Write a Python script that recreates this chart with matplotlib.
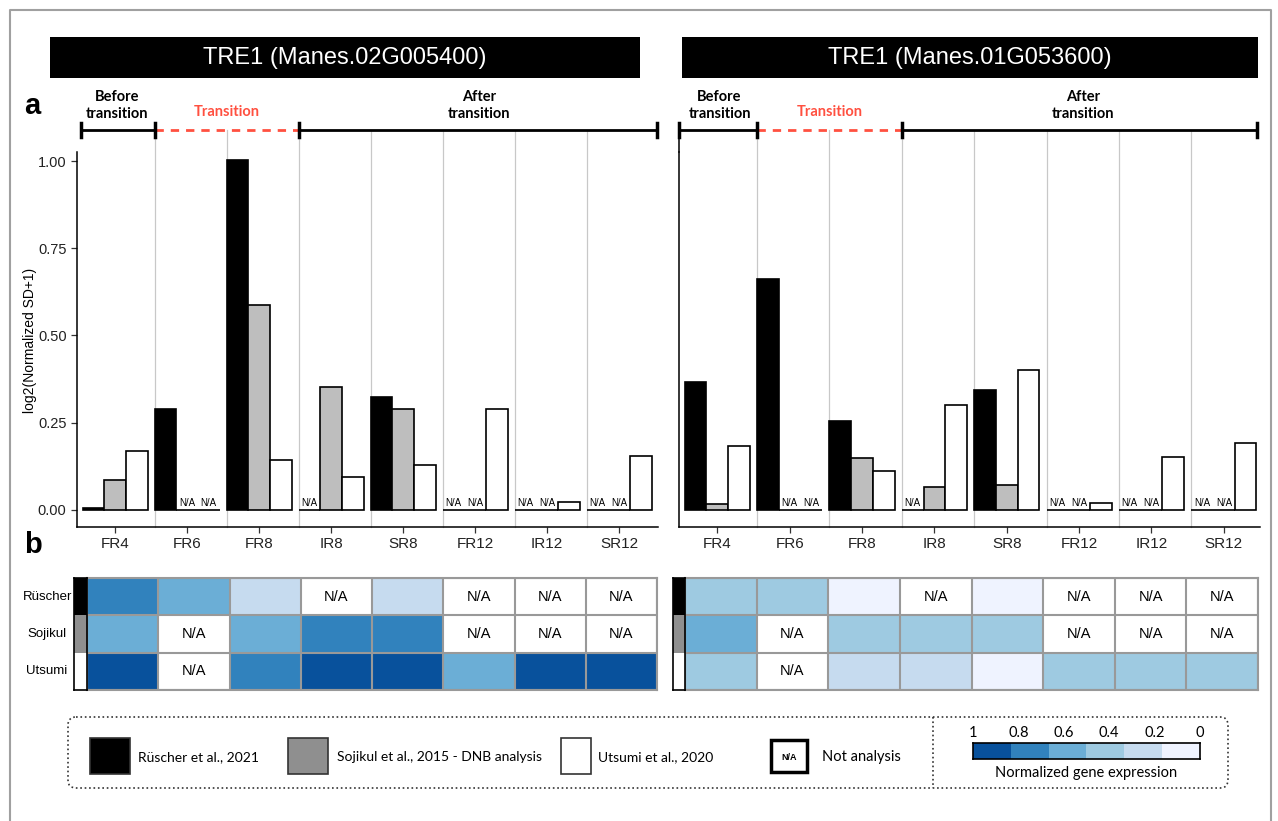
import numpy as np
import matplotlib
matplotlib.use('Agg')
import matplotlib.pyplot as plt
from matplotlib.colors import ListedColormap, BoundaryNorm
from matplotlib.patches import Rectangle, FancyBboxPatch

plt.rcParams['font.family'] = ['Liberation Sans', 'DejaVu Sans']

W, H = 1278, 821
na = np.nan

samples = ['FR4', 'FR6', 'FR8', 'IR8', 'SR8', 'FR12', 'IR12', 'SR12']
studies = ['Rüscher', 'Sojikul', 'Utsumi']
genes = ['TRE1 (Manes.02G005400)', 'TRE1 (Manes.01G053600)']
legend_labels = ['Rüscher et al., 2021', 'Sojikul et al., 2015 - DNB analysis', 'Utsumi et al., 2020']

# log2(Normalized SD+1) per study (nan = not analysed)
sd_02g_ruscher = [0.005, 0.29, 1.003, na, 0.323, na, na, na]
sd_02g_sojikul = [0.086, na, 0.588, 0.351, 0.29, na, na, na]
sd_02g_utsumi = [0.169, na, 0.143, 0.094, 0.128, 0.288, 0.024, 0.154]
sd_01g_ruscher = [0.367, 0.662, 0.255, na, 0.344, na, na, na]
sd_01g_sojikul = [0.017, na, 0.149, 0.066, 0.072, na, na, na]
sd_01g_utsumi = [0.183, na, 0.112, 0.30, 0.401, 0.02, 0.152, 0.192]

# normalized gene expression (heatmap b)
ex_02g_ruscher = [0.8, 0.6, 0.2, na, 0.2, na, na, na]
ex_02g_sojikul = [0.6, na, 0.6, 0.8, 0.8, na, na, na]
ex_02g_utsumi = [1.0, na, 0.8, 1.0, 1.0, 0.6, 1.0, 1.0]
ex_01g_ruscher = [0.4, 0.4, 0.0, na, 0.0, na, na, na]
ex_01g_sojikul = [0.6, na, 0.4, 0.4, 0.4, na, na, na]
ex_01g_utsumi = [0.4, na, 0.2, 0.2, 0.0, 0.4, 0.4, 0.4]

levels = [0, 0.2, 0.4, 0.6, 0.8, 1.0]
level_labels = ['1', '0.8', '0.6', '0.4', '0.2', '0']

bar_colors = ['black', '#bebebe', 'white']
strip_colors = ['black', '#8f8f8f', 'white']
blues = ['#eff3ff', '#c6dbef', '#9ecae1', '#6baed6', '#3182bd', '#08519c']
red = '#ff5040'

cmap = ListedColormap(blues)
cmap.set_bad('white')
norm = BoundaryNorm([-0.1, 0.1, 0.3, 0.5, 0.7, 0.9, 1.1], 6)


def box(x0, y0, x1, y1):
    # pixel box -> figure fraction
    return [x0 / W, 1 - y1 / H, (x1 - x0) / W, (y1 - y0) / H]


fig = plt.figure(figsize=(W / 100, H / 100), dpi=100)

# overlay for frame, titles, legend (pixel coords)
lax = fig.add_axes([0, 0, 1, 1], zorder=-1)
lax.set_xlim(0, W)
lax.set_ylim(H, 0)
lax.axis('off')
lax.plot([10, 10, 1271, 1271], [H, 10, 10, H], color='#a0a0a0', lw=1.5)

YLO, YHI = -0.049, 1.026
YB = 1.089  # bracket height in data units
SEP = 0.55  # facet border offset from group centre


def bar_panel(ax, series, xl, xr, show_y):
    x = np.arange(len(samples))
    for k, (vals, c) in enumerate(zip(series, bar_colors)):
        xs = x + (k - 1) * 0.3
        ax.bar(xs, np.nan_to_num(vals), 0.3, color=c, edgecolor='black', lw=1.2, zorder=3)
        for xi, v in zip(xs, vals):
            if np.isnan(v):
                ax.text(xi, 0.006, 'N/A', fontsize=7, ha='center', va='bottom', zorder=4)
    for s in x[:-1] + SEP:
        ax.plot([s, s], [YLO, YB], color='#c8c8c8', lw=0.9, zorder=0, clip_on=False)
    ax.set_xlim(-0.53, 7.5 if not show_y else 7.54)
    ax.set_ylim(YLO, YHI)
    ax.set_xticks(x)
    ax.set_xticklabels(samples, fontsize=11)
    ax.set_yticks([0, 0.25, 0.5, 0.75, 1.0])
    ax.set_yticklabels(['0.00', '0.25', '0.50', '0.75', '1.00'], fontsize=10.5)
    for sp in ['top', 'right']:
        ax.spines[sp].set_visible(False)
    for sp in ['left', 'bottom']:
        ax.spines[sp].set_linewidth(1.1)
    ax.tick_params(length=4, width=0.9, colors='#333333', labelcolor='#222222')
    if not show_y:
        ax.tick_params(axis='y', left=False, labelleft=False)
        ax.plot([-0.53, -0.53], [YHI, YB], color='black', lw=1.1, clip_on=False)
    # brackets
    b1, b2 = SEP, 2 + SEP
    ax.plot([xl, b1], [YB, YB], color='black', lw=2, clip_on=False)
    ax.plot([b1, b2], [YB, YB], color=red, lw=2, ls=(0, (3, 2.5)), clip_on=False)
    ax.plot([b2, xr], [YB, YB], color='black', lw=2, clip_on=False)
    for cx in [xl, b1, b2, xr]:
        ax.plot([cx, cx], [YB - 0.02, YB + 0.02], color='black', lw=2.5, clip_on=False)
    kw = dict(ha='center', va='center', fontsize=10.5, fontweight='bold', family=['Lato', 'DejaVu Sans'], clip_on=False)
    ax.text(0.03, 1.16, 'Before\ntransition', linespacing=1.25, **kw)
    ax.text(1.55, 1.141, 'Transition', color=red, **kw)
    ax.text(5.05, 1.16, 'After\ntransition', linespacing=1.25, **kw)


def heat_panel(ax, sax, rows, labels):
    data = np.ma.masked_invalid(np.array(rows))
    ax.imshow(data, cmap=cmap, norm=norm, aspect='auto', interpolation='nearest')
    ax.set_xticks(np.arange(-0.5, 8), minor=True)
    ax.set_yticks(np.arange(-0.5, 3), minor=True)
    ax.grid(which='minor', color='#999999', lw=1.5)
    ax.tick_params(which='both', length=0, labelbottom=False, labelleft=False)
    for sp in ax.spines.values():
        sp.set_color('#999999')
        sp.set_linewidth(1.5)
    for i, r in enumerate(rows):
        for j, v in enumerate(r):
            if np.isnan(v):
                ax.text(j, i, 'N/A', ha='center', va='center', fontsize=10.5)
    sax.imshow(np.arange(3).reshape(3, 1), cmap=ListedColormap(strip_colors), aspect='auto')
    sax.set_xticks([])
    sax.set_yticks([])
    for sp in sax.spines.values():
        sp.set_linewidth(1.2)
    if labels:
        for i, s in enumerate(studies):
            ax.text(-1.06, i, s, ha='center', va='center', fontsize=9.5, clip_on=False)


ax1 = fig.add_axes(box(77, 152, 658, 527))
bar_panel(ax1, [sd_02g_ruscher, sd_02g_sojikul, sd_02g_utsumi], -0.47, 7.53, True)
ax2 = fig.add_axes(box(679, 152, 1260, 527))
bar_panel(ax2, [sd_01g_ruscher, sd_01g_sojikul, sd_01g_utsumi], -0.53, 7.46, False)

h1 = fig.add_axes(box(87, 578, 657, 690))
s1 = fig.add_axes(box(74, 578, 87, 690))
heat_panel(h1, s1, [ex_02g_ruscher, ex_02g_sojikul, ex_02g_utsumi], True)
h2 = fig.add_axes(box(685, 578, 1258, 690))
s2 = fig.add_axes(box(673, 578, 685, 690))
heat_panel(h2, s2, [ex_01g_ruscher, ex_01g_sojikul, ex_01g_utsumi], False)

# gene title bars
for (x0, x1), g in zip([(50, 640), (682, 1258)], genes):
    lax.add_patch(Rectangle((x0, 37), x1 - x0, 41, fc='black', ec='none'))
    lax.text((x0 + x1) / 2, 58, g, color='white', fontsize=17, ha='center', va='center')

lax.text(24, 106, 'a', fontsize=21, fontweight='bold', ha='left', va='center')
lax.text(24, 545, 'b', fontsize=21, fontweight='bold', ha='left', va='center')
lax.text(30, 340, 'log2(Normalized SD+1)', rotation=90, fontsize=10, ha='center', va='center')

# legend
lf = ['Lato', 'DejaVu Sans']
lax.add_patch(FancyBboxPatch((68, 717), 1160, 71, boxstyle='round,pad=0,rounding_size=8',
                             fc='none', ec='#333333', lw=1.2, ls=':'))
lax.plot([933, 933], [717, 788], color='#333333', lw=1.2, ls=':')
for (sx, tx), c, lab in zip([(90, 138), (288, 337), (561, 598)], strip_colors, legend_labels):
    w = 40 if c != 'white' else 30
    lax.add_patch(Rectangle((sx, 738), w, 36, fc=c, ec='#333333', lw=1.2))
    lax.text(tx, 757, lab, fontsize=10, ha='left', va='center', family=lf)
lax.add_patch(Rectangle((771, 740), 36, 32, fc='white', ec='black', lw=2.5))
lax.text(789, 757, 'N/A', fontsize=6.5, fontweight='bold', ha='center', va='center')
lax.text(822, 757, 'Not analysis', fontsize=10.5, ha='left', va='center', family=lf)

cax = fig.add_axes(box(973, 743, 1200, 759))
cax.imshow([levels[::-1]], cmap=cmap, norm=norm, aspect='auto')
cax.set_yticks([])
cax.set_xticks(np.linspace(-0.5, 5.5, 6))
cax.set_xticklabels(level_labels, fontsize=10.5, family=lf)
cax.xaxis.tick_top()
cax.tick_params(length=0, pad=2)
for sp in cax.spines.values():
    sp.set_linewidth(1.2)
lax.text(1086, 773, 'Normalized gene expression', fontsize=10.5, ha='center', va='center', family=lf)

fig.savefig('out.png', dpi=100)
